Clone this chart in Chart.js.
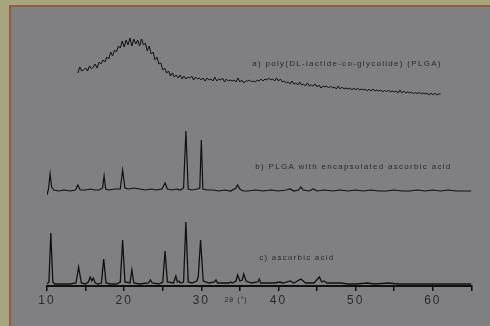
<!DOCTYPE html>
<html><head><meta charset="utf-8">
<script src="https://cdn.jsdelivr.net/npm/chart.js@4.4.1/dist/chart.umd.min.js"></script>
<style>html,body{margin:0;padding:0;background:#a7a57d;}#wrap{width:490px;height:326px;}</style>
</head><body><div id="wrap"><canvas id="c" width="490" height="326"></canvas></div>
<script>
// 2θ tick labels
const tickLabels = ["10","20","30","40","50","60"];
const seriesNames = ["a) poly(DL-lactide-co-glycolide) (PLGA)","b) PLGA with encapsulated ascorbic acid","c) ascorbic acid"];
const axisTitle = "2θ (°)";

// Trace a: PLGA (2θ from 14 to 61 in 0.25° steps), stacked intensity
const aStart = 14, aStep = 0.25;
const aValues = [
213,219,215,216, 218,215,220,217, 219,222,218,224, 222,226,224,229,
227,234,230,236, 234,240,238,245, 239,246,241,248, 240,247,242,246,
240,247,241,243, 235,240,232,234, 226,229,222,223, 216,218,213,215,
210,213,209,211, 208,211,207,210, 207,209,208,210, 206,209,207,208,
206,208,205,208, 206,207,205,209, 205,207,206,208, 204,207,205,206,
205,206,204,208, 204,206,203,205, 205,206,204,205, 204,206,205,207,
205,207,206,208, 206,207,205,208, 205,207,204,205, 203,204,202,205,
202,203,201,204, 201,202,200,203, 200,201,200,202, 199,201,198,200,
199,200,198,200, 198,199,197,200, 197,199,197,198, 197,198,196,198,
196,198,196,197, 196,197,195,197, 195,197,195,196, 195,196,194,196,
194,196,194,195, 194,195,193,196, 193,195,193,194, 193,194,192,194,
192,194,192,193, 192,193,191,193, 191,193,191,192, 192
];

// Trace b: PLGA with encapsulated ascorbic acid
const bX = [10.0,10.2,10.4,10.6,10.9,11.5,12.2,13.0,13.7,14.0,14.3,15.0,15.6,16.2,16.8,17.2,17.4,17.6,18.0,18.8,19.5,19.8,20.1,20.6,21.2,22.0,22.8,23.5,24.2,24.9,25.3,25.6,26.2,26.8,27.3,27.7,28.0,28.3,28.8,29.5,29.8,30.0,30.2,30.8,31.5,32.3,33.0,33.8,34.5,34.7,35.0,35.4,36.0,37.0,38.0,39.0,40.0,41.0,41.5,42.0,42.6,42.9,43.2,44.0,44.5,45.0,46.0,47.0,48.0,49.0,50.0,51.0,52.0,53.0,54.0,55.0,56.0,57.0,58.0,59.0,60.0,61.0,62.0,63.0,64.0,65.0];
const bY = [91,97,112,99,96,95,96,95,96,101,96,96,97,96,96,98,110,97,96,97,97,116,98,97,98,97,96,97,96,97,103,97,96,97,96,98,155,97,96,97,98,146,97,96,96,95,96,95,98,101,97,95,95,96,95,96,95,96,97,95,96,99,96,95,97,95,96,95,96,95,96,95,96,95,95,96,95,95,96,95,96,95,96,95,95,95];

// Trace c: ascorbic acid
const cX = [10.0,10.25,10.5,10.75,11.0,12.0,13.0,13.75,14.1,14.45,15.0,15.35,15.6,15.8,16.0,16.25,16.6,17.05,17.35,17.65,18.2,19.0,19.5,19.8,20.1,20.75,21.0,21.25,22.0,23.15,23.4,23.65,24.5,25.0,25.3,25.6,26.4,26.7,26.9,27.1,27.3,27.7,28.0,28.3,28.8,29.4,29.6,29.9,30.25,31.0,31.7,31.9,32.1,33.0,33.6,33.8,34.0,34.5,34.7,35.0,35.3,35.5,35.8,36.5,37.3,37.5,37.7,38.5,39.5,40.1,40.6,41.5,42.0,42.9,43.5,44.1,44.6,45.3,45.6,45.9,46.3,47.0,48.1,49.0,50.0,51.5,52.5,54.3,55.5,57.0,58.0,59.0,60.0,61.0,62.0,63.0,64.0,65.0];
const cY = [2,4,53,4,2,2,2,3,19,3,2,4,9,5,8,3,2,3,27,3,2,2,4,46,4,3,16,3,2,3,6,3,2,4,35,4,3,10,4,5,3,4,64,4,3,5,9,46,5,3,4,6,3,3,3,4,3,5,11,5,6,12,5,3,4,7,3,3,3,4,3,5,3,7,3,3,3,9,4,5,3,3,3,2,2,3,2,3,2,2,2,2,2,2,2,2,2,2];

const ptsA = aValues.map((v,i)=>({x: aStart + i*aStep, y: v}));
const ptsB = bX.map((x,i)=>({x, y: bY[i]}));
const ptsC = cX.map((x,i)=>({x, y: cY[i]}));

const labelPos = [{x:36.6,y:222},{x:37.0,y:119},{x:37.5,y:28}];
const labelWidths = [188,195,74];

const bgPlugin = {
  id:'bg',
  beforeDraw(chart){
    const ctx = chart.ctx;
    ctx.save();
    ctx.fillStyle = '#a7a57d';
    ctx.fillRect(0,0,490,326);
    ctx.fillStyle = '#808083';
    ctx.fillRect(10,6,480,320);
    ctx.strokeStyle = '#9c5a3c';
    ctx.lineWidth = 2;
    ctx.beginPath();
    ctx.moveTo(10,326); ctx.lineTo(10,6); ctx.lineTo(490,6);
    ctx.stroke();
    ctx.restore();
  },
  afterDraw(chart){
    const ctx = chart.ctx, xs = chart.scales.x, ys = chart.scales.y;
    ctx.save();
    ctx.fillStyle = '#2a2a2a';
    ctx.textBaseline = 'middle';
    ctx.font = '8px "Liberation Sans", Arial, sans-serif';
    seriesNames.forEach((t,i)=>{
      ctx.letterSpacing = '0px';
      const w = ctx.measureText(t).width;
      const sp = Math.max(0,(labelWidths[i]-w)/(t.length-1));
      ctx.letterSpacing = sp.toFixed(2)+'px';
      ctx.fillText(t, xs.getPixelForValue(labelPos[i].x), ys.getPixelForValue(labelPos[i].y));
    });
    ctx.letterSpacing = '1px';
    ctx.font = '7px "Liberation Sans", Arial, sans-serif';
    ctx.textAlign = 'center';
    ctx.fillText(axisTitle, xs.getPixelForValue(34.5), 300);
    ctx.restore();
  }
};

const tickPlugin = {
  id:'tk',
  beforeDraw(chart){ chart.ctx.letterSpacing = '2px'; }
};

new Chart(document.getElementById('c'), {
  type:'line',
  data:{datasets:[
    {data:ptsA, borderColor:'#111', borderWidth:1, pointRadius:0, tension:0, fill:false},
    {data:ptsB, borderColor:'#111', borderWidth:1.2, pointRadius:0, tension:0, fill:false},
    {data:ptsC, borderColor:'#111', borderWidth:1.3, pointRadius:0, tension:0, fill:false}
  ]},
  options:{
    responsive:false, animation:false, devicePixelRatio:1,
    layout:{padding:{left:47,right:18.6,top:6,bottom:0}},
    plugins:{legend:{display:false},tooltip:{enabled:false}},
    scales:{
      x:{type:'linear',min:10,max:65,
        afterFit(s){ s.height = 40; },
        border:{display:true,color:'#111',width:2},
        grid:{drawOnChartArea:false,drawTicks:true,tickLength:5,color:'#111',lineWidth:1.5},
        ticks:{stepSize:5,maxRotation:0,autoSkip:false,padding:2,color:'#2a2a2a',
          font:{family:'"Liberation Sans", Arial, sans-serif',size:12},
          callback(v){ const s=String(v); return tickLabels.includes(s) ? s : ''; }}
      },
      y:{display:false,min:0,max:280}
    }
  },
  plugins:[bgPlugin, tickPlugin]
});
</script></body></html>
